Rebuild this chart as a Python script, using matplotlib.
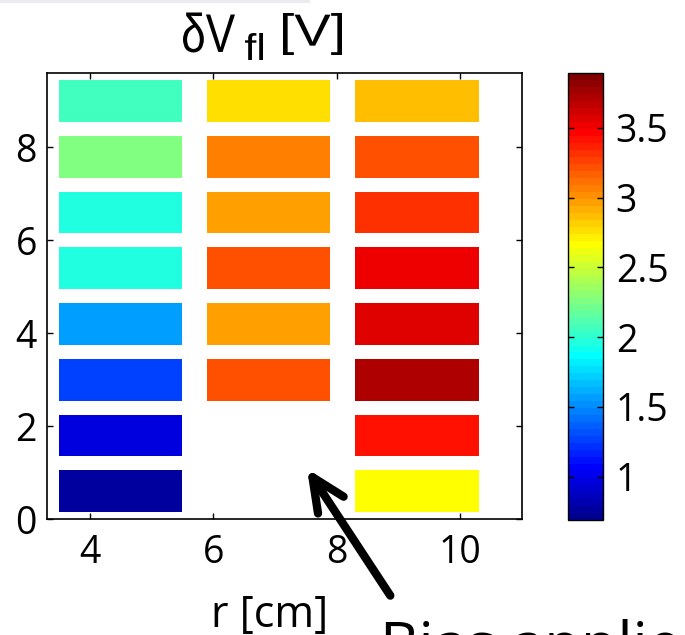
import numpy as np
import matplotlib
matplotlib.use("Agg")
import matplotlib.pyplot as plt
from matplotlib.colors import ListedColormap, Normalize
from matplotlib.patches import Rectangle, PathPatch
from matplotlib.collections import PatchCollection
from matplotlib.textpath import TextPath
from matplotlib.font_manager import FontProperties
from matplotlib.transforms import Affine2D

# probe radial positions (cell centres, cm) and cell width
r_pos = [4.5, 6.9, 9.3]
r_width = 2.0
# probe heights: lower edge of each row and row height
z_low = [0.15, 1.35, 2.55, 3.75, 4.95, 6.15, 7.35, 8.55]
z_height = 0.9

# floating potential fluctuation per column, bottom row first (NaN = no probe)
dvfl_r1 = [0.76, 0.95, 1.25, 1.56, 1.95, 1.95, 2.25, 2.06]
dvfl_r2 = [np.nan, np.nan, 3.20, 2.95, 3.20, 2.95, 3.05, 2.74]
dvfl_r3 = [2.64, 3.40, 3.69, 3.59, 3.50, 3.30, 3.20, 2.87]

c_lim = (0.69, 3.89)
cbar_ticks = [1, 1.5, 2, 2.5, 3, 3.5]
x_ticks = [4, 6, 8, 10]
y_ticks = [0, 2, 4, 6, 8]

# MATLAB style jet with 64 levels
t = np.arange(1, 65) / 64.0
jet64 = ListedColormap(np.stack([np.clip(1.5 - np.abs(4 * t - 3), 0, 1),
                                 np.clip(1.5 - np.abs(4 * t - 2), 0, 1),
                                 np.clip(1.5 - np.abs(4 * t - 1), 0, 1)], axis=1))

plt.rcParams['font.family'] = ['Open Sans', 'DejaVu Sans']

W, H = 685, 635
fig = plt.figure(figsize=(W / 100, H / 100), dpi=100)

def fx(px):
    return px / W

def fy(py):
    return 1 - py / H

ax = fig.add_axes([fx(46.7), fy(519), fx(521.7) - fx(46.7), fy(72.7) - fy(519)])

cells, vals = [], []
for r, col in zip(r_pos, [dvfl_r1, dvfl_r2, dvfl_r3]):
    for z, v in zip(z_low, col):
        if np.isnan(v):
            continue
        cells.append(Rectangle((r - r_width / 2, z), r_width, z_height))
        vals.append(v)

pc = PatchCollection(cells, cmap=jet64, norm=Normalize(*c_lim), edgecolor='none')
pc.set_array(np.array(vals))
ax.add_collection(pc)

ax.set_xlim(3.3, 11.0)
ax.set_ylim(0, 9.61)
ax.set_xticks(x_ticks)
ax.set_yticks(y_ticks)
ax.tick_params(direction='in', length=4, width=1, top=True, right=True,
               labelsize=27)
ax.tick_params(axis='x', pad=11)
ax.tick_params(axis='y', pad=7)
for s in ax.spines.values():
    s.set_linewidth(1.2)

fig.text(fx(270), fy(627), 'r [cm]', fontsize=31, ha='center', va='baseline')


# title: condensed lettering, each piece squeezed into its own box (pixels)
def squeezed_text(s, x0, x1, top, bottom, size=50):
    path = TextPath((0, 0), s, size=size, prop=FontProperties(family='Liberation Sans'))
    ext = path.get_extents()
    sx = (x1 - x0) / ext.width
    sy = (bottom - top) / ext.height
    tr = Affine2D().translate(-ext.x0, -ext.y0).scale(sx, sy).translate(x0, H - bottom)
    fig.patches.append(PathPatch(tr.transform_path(path), facecolor='black',
                                 edgecolor='none', transform=None))


squeezed_text('δV', 183, 235, 12.5, 52.5)
squeezed_text('fl', 245, 263, 33, 60)
squeezed_text('[V]', 283, 342, 13, 55)

# colorbar
cax = fig.add_axes([fx(568.3), fy(520), fx(603.3) - fx(568.3), fy(73.3) - fy(520)])
cb = fig.colorbar(pc, cax=cax, ticks=cbar_ticks)
cb.ax.set_yticklabels(['1', '1.5', '2', '2.5', '3', '3.5'])
cb.ax.tick_params(direction='in', length=4, width=1, left=True, right=True,
                  labelsize=27, pad=9)
cb.outline.set_linewidth(1.0)

# arrow marking where the bias is applied
ax.annotate('', xy=(7.52, 1.08), xytext=(8.87, -1.65), xycoords='data',
            textcoords='data', annotation_clip=False,
            arrowprops=dict(arrowstyle='->,head_length=2.4,head_width=1.1',
                            lw=6, color='black', shrinkA=0, shrinkB=0,
                            capstyle='round', joinstyle='round'))
fig.text(fx(380), fy(665), 'Bias applied', fontsize=43, va='baseline')

# faint strip along the top edge
fig.patches.append(Rectangle((0, fy(3)), fx(310), 1 - fy(3), transform=fig.transFigure,
                             facecolor='#ececf0', edgecolor='none', zorder=0))

fig.savefig('out.png', dpi=100)
